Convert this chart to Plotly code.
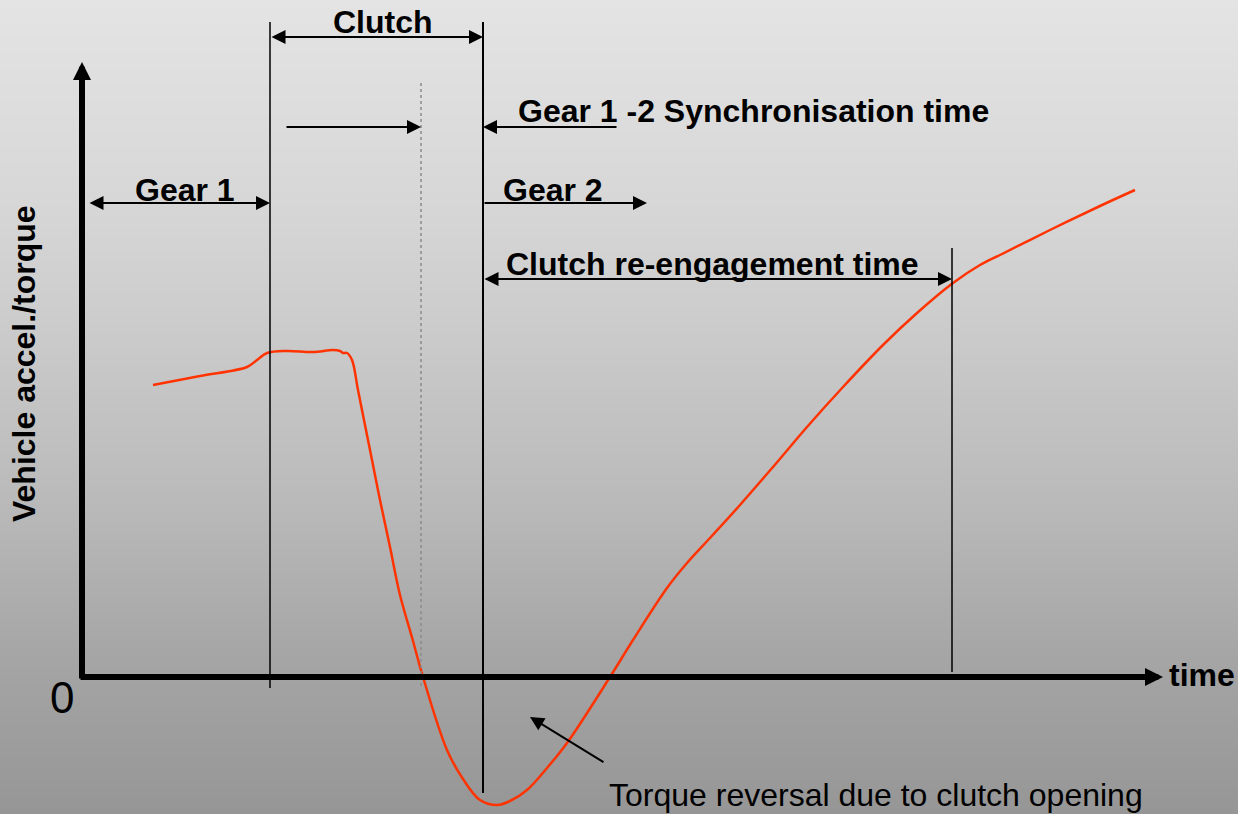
import numpy as np
import plotly.graph_objects as go

# Vehicle accel./torque trace during a 1-2 upshift (arbitrary units)
time = [7.1, 11.8, 16.5, 17.5, 18.5, 20.5, 23.1, 25.1, 25.8, 26.1, 26.5, 27.0,
        27.6, 28.8, 29.8, 30.8, 31.8, 33.1, 34.1, 36.5, 38.1, 39.8, 41.5, 42.8,
        44.5, 46.5, 48.5, 52.8, 55.1, 58.5, 60.5, 62.8, 65.8, 69.1, 72.5, 76.1,
        80.1, 83.5, 87.1, 89.8, 91.8, 96.8, 101.8, 105.3]
accel = [58.4, 60.2, 62.0, 63.4, 64.8, 65.2, 65.0, 65.4, 65.2, 64.8, 64.8, 63.4,
         57.4, 45.4, 35.4, 26.0, 16.4, 7.2, 0.0, -14.6, -20.4, -24.6, -25.6, -24.8,
         -22.6, -18.2, -13.2, 0.0, 7.4, 17.8, 22.8, 27.8, 34.4, 42.0, 50.0, 58.0,
         66.4, 72.8, 78.8, 82.4, 84.4, 89.4, 94.2, 97.4]

# event times
t_gear1_start = 0.6
t_clutch_open = 18.8
t_sync = 33.9
t_clutch_closed = 40.1
t_reengaged = 87.0

x_range = [-8.2, 115.6]
y_range = [-27.4, 135.4]

fig = go.Figure()

# background gradient (light grey top -> darker grey bottom)
stops_px = [0, 200, 300, 500, 660, 814]
stops_grey = [228, 215, 206, 186, 165, 150]
band = 2
for top in range(0, 814, band):
    g = int(round(np.interp(top + band / 2, stops_px, stops_grey)))
    fig.add_shape(type="rect", xref="paper", yref="paper",
                  x0=0, x1=1, y0=1 - (top + band) / 814, y1=1 - top / 814,
                  fillcolor=f"rgb({g},{g},{g})", line_width=0, layer="below")

# vertical event lines
def vline(x, y0, y1, width=1.5, color="black", dash=None):
    fig.add_shape(type="line", xref="x", yref="y", x0=x, x1=x, y0=y0, y1=y1,
                  line=dict(color=color, width=width, dash=dash))

vline(t_clutch_open, -2.2, 131)
vline(t_clutch_closed, -23.2, 131, width=2)
vline(t_sync, -1.8, 119, width=1.5, color="#8a8a8a", dash="dot")
vline(t_reengaged, 1, 85.8)

fig.add_trace(go.Scatter(x=time, y=accel, mode="lines",
                         line=dict(color="#ff3300", width=2.5, shape="spline", smoothing=1.0),
                         hoverinfo="skip"))

def arrow(x0, y0, x1, y1, both=False, width=2, size=1.4):
    fig.add_annotation(x=x1, y=y1, ax=x0, ay=y0, xref="x", yref="y", axref="x", ayref="y",
                       text="", showarrow=True, arrowhead=2, arrowsize=size, arrowwidth=width,
                       arrowcolor="black", startarrowhead=2, startarrowsize=size,
                       arrowside="end+start" if both else "end", standoff=0)

# axes
arrow(0, -0.6, 0, 123, width=6, size=0.6)
arrow(-0.3, 0, 108.1, 0, width=6, size=0.6)

arrow(t_clutch_open, 128, t_clutch_closed, 128, both=True)
arrow(t_gear1_start, 94.8, t_clutch_open, 94.8, both=True)
arrow(20.3, 110, t_sync, 110)
arrow(53.6, 110, t_clutch_closed, 110)
arrow(t_clutch_closed, 94.8, 56.5, 94.8)
arrow(t_clutch_closed, 79.6, t_reengaged, 79.6, both=True)
arrow(52.3, -17.2, 44.8, -8.0)

bold = dict(family="Liberation Sans, Arial, sans-serif", size=32, color="black", weight="bold")
plain = dict(family="Liberation Sans, Arial, sans-serif", size=32, color="black")

def label(text, x, y, font, xanchor="left", angle=0):
    fig.add_annotation(x=x, y=y, xref="x", yref="y", text=text, showarrow=False,
                       font=font, xanchor=xanchor, yanchor="middle", textangle=angle,
                       borderpad=0)

label("Clutch", 30.1, 131.0, bold, xanchor="center")
label("Gear 1", 10.3, 97.4, bold, xanchor="center")
label("Gear 1 -2 Synchronisation time", 43.5, 113.2, bold)
label("Gear 2", 42.0, 97.4, bold)
label("Clutch re-engagement time", 42.3, 82.6, bold)
label("time", 108.6, 0.4, bold)
label("0", -2.0, -4.0, dict(family="Liberation Sans, Arial, sans-serif", size=44, color="black"),
      xanchor="center")
label("Torque reversal due to clutch opening", 52.6, -23.6, plain)
label("Vehicle accel./torque", -5.8, 62.6, bold, xanchor="center", angle=-90)

fig.update_layout(
    width=1238, height=814,
    margin=dict(l=0, r=0, t=0, b=0, pad=0),
    paper_bgcolor="#c8c8c8", plot_bgcolor="rgba(0,0,0,0)",
    showlegend=False,
    xaxis=dict(range=x_range, visible=False, fixedrange=True),
    yaxis=dict(range=y_range, visible=False, fixedrange=True),
)

fig.write_html("out.html", config={"displayModeBar": False})

# drop the browser's default body margin so the figure fills the window
with open("out.html", encoding="utf-8") as f:
    page = f.read()
page = page.replace("<body>", '<body style="margin:0;overflow:hidden">', 1)
with open("out.html", "w", encoding="utf-8") as f:
    f.write(page)
